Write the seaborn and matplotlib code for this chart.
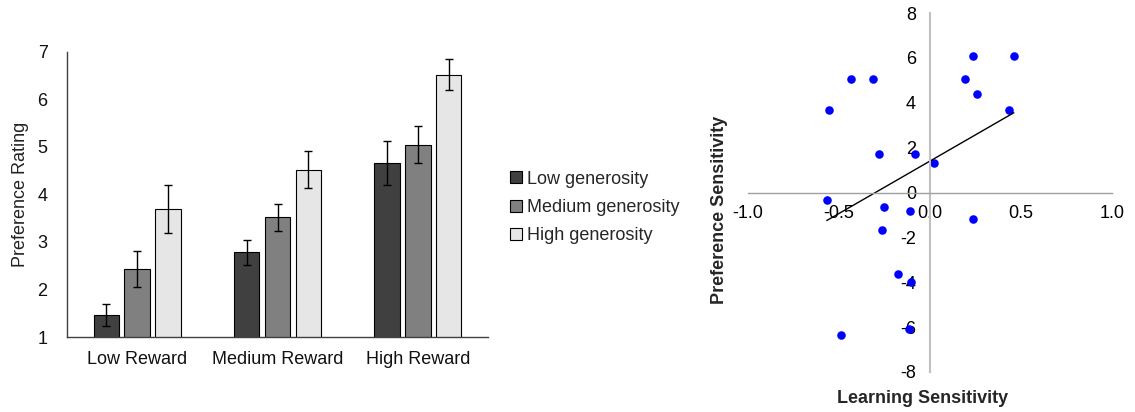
import numpy as np
import pandas as pd
import matplotlib
matplotlib.use("Agg")
import matplotlib.pyplot as plt
from matplotlib.patches import Patch
import seaborn as sns

# ---- bar chart data ----
reward_levels = ["Low Reward", "Medium Reward", "High Reward"]
generosity_levels = ["Low generosity", "Medium generosity", "High generosity"]
low_gen_mean = [1.47, 2.78, 4.66]
med_gen_mean = [2.44, 3.52, 5.05]
high_gen_mean = [3.69, 4.52, 6.52]
low_gen_err = [0.23, 0.27, 0.47]
med_gen_err = [0.38, 0.28, 0.39]
high_gen_err = [0.50, 0.39, 0.33]
bar_colors = ["#404040", "#808080", "#e6e6e6"]

# ---- scatter data ----
learning_sens = [-0.557, -0.433, -0.314, -0.567, -0.279, -0.082, 0.022,
                 -0.255, -0.110, -0.261, -0.176, -0.104, -0.488, -0.115,
                 0.239, 0.461, 0.191, 0.257, 0.437, 0.239]
preference_sens = [3.70, 5.06, 5.06, -0.31, 1.73, 1.70, 1.34,
                   -0.65, -0.80, -1.67, -3.65, -4.00, -6.35, -6.07,
                   6.09, 6.09, 5.06, 4.38, 3.70, -1.18]

sns.set_theme(style="white")
plt.rcParams["font.family"] = ["Liberation Sans", "DejaVu Sans"]
plt.rcParams["axes.unicode_minus"] = False

fig = plt.figure(figsize=(11.35, 4.12), dpi=100)

# ---------- left: grouped bars ----------
ax1 = fig.add_axes([0.059, 0.182, 0.371, 0.692])
bars = pd.DataFrame({
    "reward": reward_levels * 3,
    "generosity": np.repeat(generosity_levels, 3),
    "rating": low_gen_mean + med_gen_mean + high_gen_mean,
    "err": low_gen_err + med_gen_err + high_gen_err,
})
sns.barplot(data=bars, x="reward", y="rating", hue="generosity",
            order=reward_levels, hue_order=generosity_levels,
            palette=bar_colors, width=0.66, gap=0.18, errorbar=None,
            edgecolor="black", linewidth=0.8, legend=False, ax=ax1)
for container, gen in zip(ax1.containers, generosity_levels):
    sub = bars[bars["generosity"] == gen]
    xs = [p.get_x() + p.get_width() / 2 for p in container.patches]
    ax1.errorbar(xs, sub["rating"].values, yerr=sub["err"].values,
                 fmt="none", ecolor="black", elinewidth=1, capsize=3,
                 capthick=1, zorder=5)
ax1.set_ylim(1, 7)
ax1.set_xlim(-0.5, 2.5)
ax1.set_yticks(range(1, 8))
ax1.set_xlabel("")
ax1.set_ylabel("Preference Rating", fontsize=13, color="#222222", labelpad=6)
ax1.tick_params(axis="both", length=0, labelsize=13, labelcolor="#111111")
ax1.tick_params(axis="x", pad=10)
ax1.tick_params(axis="y", pad=14)
for side in ["top", "right"]:
    ax1.spines[side].set_visible(False)
for side in ["left", "bottom"]:
    ax1.spines[side].set_color("#404040")
    ax1.spines[side].set_linewidth(1)

handles = [Patch(facecolor=c, edgecolor="black", linewidth=0.8) for c in bar_colors]
fig.legend(handles, generosity_levels, loc="upper left",
           bbox_to_anchor=(0.443, 0.603), frameon=False, fontsize=13,
           handlelength=0.65, handleheight=0.65, handletextpad=0.3,
           labelspacing=0.62, borderaxespad=0)

# ---------- right: scatter with trend line ----------
ax2 = fig.add_axes([0.659, 0.0971, 0.3207, 0.871])
sens = pd.DataFrame({"learning": learning_sens, "preference": preference_sens})
sns.regplot(data=sens, x="learning", y="preference", ci=None, truncate=True,
            scatter_kws=dict(s=38, color="#0000ff", alpha=1, linewidths=0,
                             zorder=1),
            line_kws=dict(color="black", linewidth=1, zorder=1), ax=ax2)
ax2.set_xlim(-1, 1)
ax2.set_ylim(-8, 8)
ax2.set_xticks([-1.0, -0.5, 0.0, 0.5, 1.0])
ax2.set_xticklabels([f"{v:.1f}" for v in [-1.0, -0.5, 0.0, 0.5, 1.0]])
ax2.set_yticks(range(-8, 9, 2))
ax2.spines["left"].set_position(("data", 0))
ax2.spines["bottom"].set_position(("data", 0))
ax2.spines["left"].set_color("#c0c0c0")
ax2.spines["left"].set_linewidth(1.5)
ax2.spines["bottom"].set_color("#a0a0a0")
ax2.spines["bottom"].set_linewidth(1)
for side in ["top", "right"]:
    ax2.spines[side].set_visible(False)
ax2.tick_params(axis="both", length=0, labelsize=13, labelcolor="black")
ax2.tick_params(axis="y", pad=10)
ax2.tick_params(axis="x", pad=9)
ax2.set_xlabel("")
ax2.set_ylabel("")
fig.text(0.8124, 0.032, "Learning Sensitivity", ha="center", va="center",
         fontsize=13, fontweight="bold")
fig.text(0.634, 0.49, "Preference Sensitivity", ha="center", va="center",
         rotation=90, fontsize=13, fontweight="bold")

fig.savefig("out.png", dpi=100)
